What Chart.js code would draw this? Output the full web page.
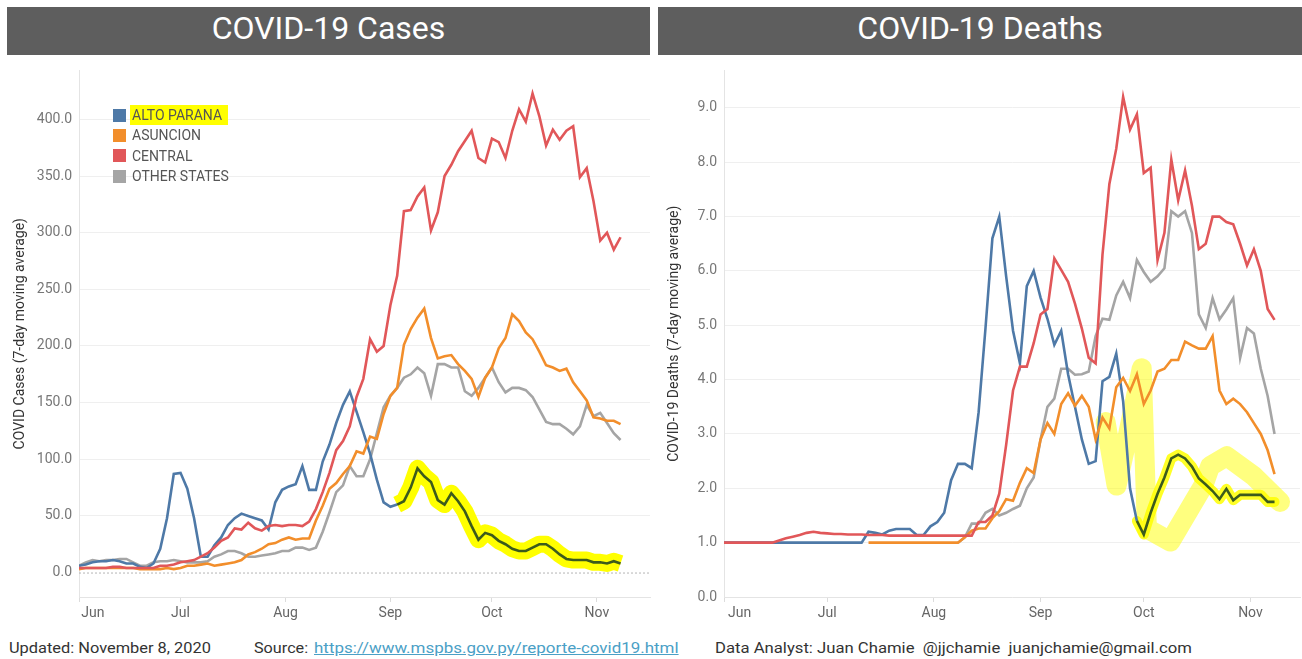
<!DOCTYPE html>
<html>
<head>
<meta charset="utf-8">
<script src="https://cdn.jsdelivr.net/npm/chart.js@4.4.1/dist/chart.umd.min.js"></script>
<style>
  body { margin: 0; width: 1302px; height: 659px; background: #fff; font-family: Roboto, "Open Sans", sans-serif; position: relative; overflow: hidden; }
  .hdr { position: absolute; top: 7px; height: 48px; background: #5e5e5e; color: #fff; font-size: 32px; text-align: center; line-height: 42px; }
  .wrap { position: absolute; top: 55px; }
  .legend { position: absolute; left: 113px; top: 105px; font-size: 14px; color: #555; }
  .legend div { height: 20.3px; display: flex; align-items: center; }
  .legend i { display: inline-block; width: 13px; height: 13px; margin-right: 6px; }
  .hl { background: #ffff00; padding: 2px 6px 2px 2px; margin-left: -2px; }
  .foot { position: absolute; top: 639px; font-size: 15px; color: #333; line-height: 18px; white-space: nowrap; transform-origin: left center; }
  .foot a { color: #4aa0c6; text-decoration: underline; }
</style>
</head>
<body>
<div class="hdr" style="left:7px;width:643px">COVID-19 Cases</div>
<div class="hdr" style="left:658px;width:644px">COVID-19 Deaths</div>

<div class="wrap" style="left:0;width:655px;height:572px"><canvas id="cases" width="655" height="572"></canvas></div>
<div class="wrap" style="left:655px;width:647px;height:572px"><canvas id="deaths" width="647" height="572"></canvas></div>

<div class="legend">
  <div><i style="background:#4e79a7"></i><span class="hl">ALTO PARANA</span></div>
  <div><i style="background:#f28e2b"></i>ASUNCION</div>
  <div><i style="background:#e15759"></i>CENTRAL</div>
  <div><i style="background:#a5a5a5"></i>OTHER STATES</div>
</div>

<div class="foot" id="f1" style="left:9px">Updated: November 8, 2020</div>
<div class="foot" id="f2" style="left:254px">Source:</div>
<div class="foot" id="f3" style="left:314px"><a>https://www.mspbs.gov.py/reporte-covid19.html</a></div>
<div class="foot" id="f4" style="left:715px">Data Analyst: Juan Chamie&nbsp; @jjchamie&nbsp; juanjchamie@gmail.com</div>

<script>
// day index since Jun 1 2020, every 2nd day up to Nov 8
const days = Array.from({ length: 81 }, (_, i) => i * 2);

const monthDays = [0, 30, 61, 92, 122, 153];
const monthLabels = ["Jun", "Jul", "Aug", "Sep", "Oct", "Nov"];

const seriesNames = ["ALTO PARANA", "ASUNCION", "CENTRAL", "OTHER STATES"];
const seriesColors = ["#4e79a7", "#f28e2b", "#e15759", "#a5a5a5"];

// cases, 7-day moving average
const casesAlto = [
  6, 7, 9, 10, 10, 11, 10, 8, 8, 5,
  4, 8, 21, 48, 87, 88, 74, 48, 14, 14,
  24, 31, 42, 48, 52, 50, 48, 46, 38, 62,
  73, 76, 78, 94, 73, 73, 98, 113, 132, 148,
  160, 142, 124, 105, 82, 62, 58, 60, 63, 75,
  92, 85, 80, 64, 60, 70, 63, 54, 41, 29,
  35, 33, 28, 25, 21, 19, 19, 22, 25, 25,
  21, 16, 12, 11, 11, 11, 9, 9, 8, 10,
  8
];
const casesAsuncion = [
  3, 4, 4, 4, 4, 4, 4, 4, 4, 3,
  3, 3, 3, 4, 3, 4, 6, 6, 7, 8,
  6, 7, 8, 9, 11, 16, 18, 21, 25, 26,
  29, 31, 29, 30, 30, 46, 59, 74, 79, 87,
  94, 107, 105, 120, 118, 140, 156, 163, 201, 215,
  225, 233, 207, 189, 191, 192, 184, 178, 171, 155,
  172, 181, 198, 207, 228, 222, 212, 206, 195, 183,
  181, 178, 180, 168, 160, 152, 137, 136, 134, 134,
  131
];
const casesCentral = [
  4, 4, 4, 4, 4, 5, 5, 4, 4, 4,
  4, 4, 6, 6, 7, 9, 10, 11, 14, 17,
  22, 28, 31, 39, 38, 44, 39, 37, 41, 42,
  41, 42, 42, 41, 45, 56, 71, 88, 108, 116,
  129, 155, 171, 206, 195, 200, 236, 262, 319, 320,
  332, 340, 302, 318, 350, 360, 372, 381, 390, 366,
  362, 383, 380, 366, 390, 409, 398, 423, 403, 377,
  391, 382, 390, 394, 349, 357, 328, 293, 300, 285,
  296
];
const casesOther = [
  6, 9, 11, 10, 11, 11, 12, 12, 9, 6,
  6, 9, 10, 10, 11, 10, 9, 9, 9, 10,
  14, 16, 19, 19, 17, 14, 14, 15, 16, 17,
  19, 19, 22, 22, 20, 22, 36, 53, 71, 77,
  94, 85, 85, 100, 123, 146, 156, 163, 172, 175,
  181, 176, 156, 184, 184, 181, 181, 160, 156, 163,
  172, 181, 168, 159, 163, 163, 161, 155, 144, 133,
  131, 131, 127, 122, 129, 148, 138, 141, 132, 123,
  117
];

// deaths, 7-day moving average
const deathsAlto = [
  1, 1, 1, 1, 1, 1, 1, 1, 1, 1,
  1, 1, 1, 1, 1, 1, 1, 1, 1, 1,
  1, 1.2, 1.18, 1.15, 1.22, 1.25, 1.25, 1.25, 1.14, 1.14,
  1.3, 1.38, 1.55, 2.15, 2.45, 2.45, 2.37, 3.4, 4.95, 6.6,
  7.0, 5.9, 4.9, 4.3, 5.72, 6.0, 5.51, 5.12, 4.64, 4.9,
  4.1, 3.5, 2.9, 2.45, 2.5, 3.97, 4.05, 4.48, 3.6, 2.0,
  1.4, 1.15, 1.55, 1.9, 2.2, 2.55, 2.62, 2.55, 2.4, 2.18,
  2.07, 1.95, 1.8, 1.99, 1.78, 1.88, 1.88, 1.88, 1.88, 1.75,
  1.75
];
const deathsAsuncion = [
  null, null, null, null, null, null, null, null, null, null,
  null, null, null, null, null, null, null, null, null, null,
  null, 1, 1, 1, 1, 1, 1, 1, 1, 1,
  1, 1, 1, 1, 1, 1.1, 1.22, 1.26, 1.26, 1.45,
  1.58, 1.8, 1.77, 2.1, 2.37, 2.28, 2.9, 3.2, 3.0, 3.55,
  3.75, 3.52, 3.7, 3.5, 2.9, 3.3, 3.1, 3.86, 4.03, 3.79,
  4.1, 3.55, 3.8, 4.15, 4.2, 4.36, 4.36, 4.7, 4.63, 4.57,
  4.57, 4.8, 3.8, 3.55, 3.65, 3.55, 3.4, 3.2, 3.0, 2.7,
  2.26
];
const deathsCentral = [
  1, 1, 1, 1, 1, 1, 1, 1, 1.04, 1.08,
  1.11, 1.14, 1.18, 1.2, 1.18, 1.17, 1.16, 1.16, 1.15, 1.15,
  1.15, 1.14, 1.14, 1.14, 1.13, 1.13, 1.13, 1.13, 1.13, 1.13,
  1.13, 1.13, 1.13, 1.13, 1.13, 1.13, 1.13, 1.38, 1.38, 1.5,
  1.9, 2.8, 3.8, 4.24, 4.24, 4.67, 5.2, 5.3, 6.23, 6.02,
  5.8, 5.4, 4.94, 4.4, 4.3, 6.3, 7.6, 8.25, 9.2, 8.6,
  8.88, 7.8, 7.9, 6.2, 6.7, 8.05, 7.3, 7.85, 7.2, 6.4,
  6.5, 7.0, 7.0, 6.9, 6.86, 6.5, 6.1, 6.4, 6.0, 5.3,
  5.1
];
const deathsOther = [
  null, null, null, null, null, null, null, null, null, null,
  null, null, null, null, null, null, null, null, null, null,
  null, null, null, null, null, null, null, null, null, null,
  null, null, null, null, 1.0, 1.1, 1.35, 1.35, 1.55, 1.62,
  1.5, 1.55, 1.62, 1.68, 2.0, 2.2, 2.9, 3.5, 3.65, 4.2,
  4.2, 4.09, 4.1, 4.15, 4.8, 5.12, 5.1, 5.55, 5.8, 5.5,
  6.2, 5.98, 5.8, 5.9, 6.05, 7.1, 7.0, 7.1, 6.7, 5.2,
  4.95, 5.5, 5.11, 5.29, 5.5, 4.4, 4.95, 4.85, 4.2, 3.7,
  3.0
];

// hand-drawn highlighter strokes (day, deaths value)
const markDays = [110.9, 114.1, 117.1, 121.4, 122.9, 129.7, 139.3, 141.3, 146.1, 153.9, 161.6];
const markVals = [3.22, 2.05, 2.89, 4.21, 1.26, 1.02, 2.05, 2.41, 2.59, 2.23, 1.75];

const casesHlFrom = 94;
const deathsHlFrom = 120;

const pts = vals => days.map((d, i) => ({ x: d, y: vals[i] }));

function lineSet(label, vals, color, order, hlFrom) {
  const ds = {
    label, data: pts(vals), borderColor: color, borderWidth: 2.6,
    pointRadius: 0, tension: 0, order, spanGaps: false
  };
  if (hlFrom != null) {
    ds.segment = { borderColor: c => c.p0.parsed.x >= hlFrom ? "#3c5b1c" : undefined };
  }
  return ds;
}

const zeroLine = {
  id: "zeroLine",
  beforeDatasetsDraw(chart) {
    const { ctx, chartArea, scales } = chart;
    const y = scales.y.getPixelForValue(0);
    ctx.save();
    ctx.setLineDash([2, 2]);
    ctx.strokeStyle = "#b5b5b5";
    ctx.lineWidth = 1;
    ctx.beginPath();
    ctx.moveTo(chartArea.left, y + 0.5);
    ctx.lineTo(chartArea.right, y + 0.5);
    ctx.stroke();
    ctx.restore();
  }
};

function makeChart(id, o) {
  return new Chart(document.getElementById(id), {
    type: "line",
    data: { datasets: o.datasets },
    options: {
      responsive: false,
      animation: false,
      layout: { padding: { top: 5, right: o.padRight, left: 0, bottom: 0 } },
      plugins: { legend: { display: false }, tooltip: { enabled: false } },
      scales: {
        x: {
          type: "linear", min: 0, max: o.xMax,
          afterBuildTicks: s => { s.ticks = monthDays.map(v => ({ value: v })); },
          afterFit: s => { s.height = 30; },
          ticks: {
            autoSkip: false, maxRotation: 0, padding: 3, color: "#666",
            font: { family: "Roboto", size: 14 },
            callback: (v, i) => (i === 0 ? o.junPad : "") + monthLabels[i]
          },
          grid: { drawOnChartArea: false, tickLength: 5, color: "#dcdcdc" },
          border: { color: "#e4e4e4" }
        },
        y: {
          min: o.yMin, max: o.yMax,
          afterBuildTicks: s => { s.ticks = o.yTicks.map(v => ({ value: v })); },
          afterFit: s => { s.width = o.yWidth; },
          ticks: {
            padding: 7, color: "#777",
            font: { family: "Roboto", size: 14 },
            callback: v => v.toFixed(1)
          },
          grid: { drawTicks: false, color: c => (o.hideZero && c.tick && c.tick.value === 0) ? "rgba(0,0,0,0)" : "#efefef" },
          border: { color: "#e4e4e4" },
          title: {
            display: true, text: o.yTitle, color: "#333",
            font: { family: "Roboto", size: 14 },
            padding: { top: o.titlePad, bottom: 0 }
          }
        }
      }
    },
    plugins: o.plugins || []
  });
}

const casesBand = pts(casesAlto).filter(p => p.x >= casesHlFrom);
makeChart("cases", {
  padRight: 5, xMax: 168.7, yMin: -21.6, yMax: 443.3, yWidth: 79, titlePad: 12,
  junPad: "        ", hideZero: true,
  yTicks: [0, 50, 100, 150, 200, 250, 300, 350, 400],
  yTitle: "COVID Cases (7-day moving average)",
  plugins: [zeroLine],
  datasets: [
    { label: "mark", data: casesBand, borderColor: "#ffff00", borderWidth: 17, pointRadius: 0, order: 10, borderCapStyle: "butt", borderJoinStyle: "round" },
    lineSet(seriesNames[3], casesOther, seriesColors[3], 4),
    lineSet(seriesNames[0], casesAlto, seriesColors[0], 3, casesHlFrom),
    lineSet(seriesNames[1], casesAsuncion, seriesColors[1], 2),
    lineSet(seriesNames[2], casesCentral, seriesColors[2], 1)
  ]
});

const deathsBand = pts(deathsAlto).filter(p => p.x >= deathsHlFrom);
const marks = markDays.map((d, i) => ({ x: d, y: markVals[i] }));
makeChart("deaths", {
  padRight: 2, xMax: 167.4, yMin: 0, yMax: 9.69, yWidth: 69, titlePad: 10.6,
  junPad: "         ", hideZero: false,
  yTicks: [0, 1, 2, 3, 4, 5, 6, 7, 8, 9],
  yTitle: "COVID-19 Deaths (7-day moving average)",
  datasets: [
    { label: "mark", data: marks, borderColor: "rgba(255,255,0,0.5)", borderWidth: 20, pointRadius: 0, order: 11, borderCapStyle: "round", borderJoinStyle: "round" },
    { label: "mark2", data: deathsBand, borderColor: "rgba(255,255,0,0.85)", borderWidth: 10, pointRadius: 0, order: 10, borderCapStyle: "round", borderJoinStyle: "round" },
    lineSet(seriesNames[3], deathsOther, seriesColors[3], 4),
    lineSet(seriesNames[0], deathsAlto, seriesColors[0], 3, deathsHlFrom),
    lineSet(seriesNames[1], deathsAsuncion, seriesColors[1], 2),
    lineSet(seriesNames[2], deathsCentral, seriesColors[2], 1)
  ]
});

// squeeze footer texts to the widths of the original condensed font
[["f1", 202], ["f2", 54], ["f3", 365], ["f4", 477]].forEach(([id, w]) => {
  const el = document.getElementById(id);
  el.style.transform = "scaleX(" + (w / el.scrollWidth) + ")";
});
</script>
</body>
</html>
